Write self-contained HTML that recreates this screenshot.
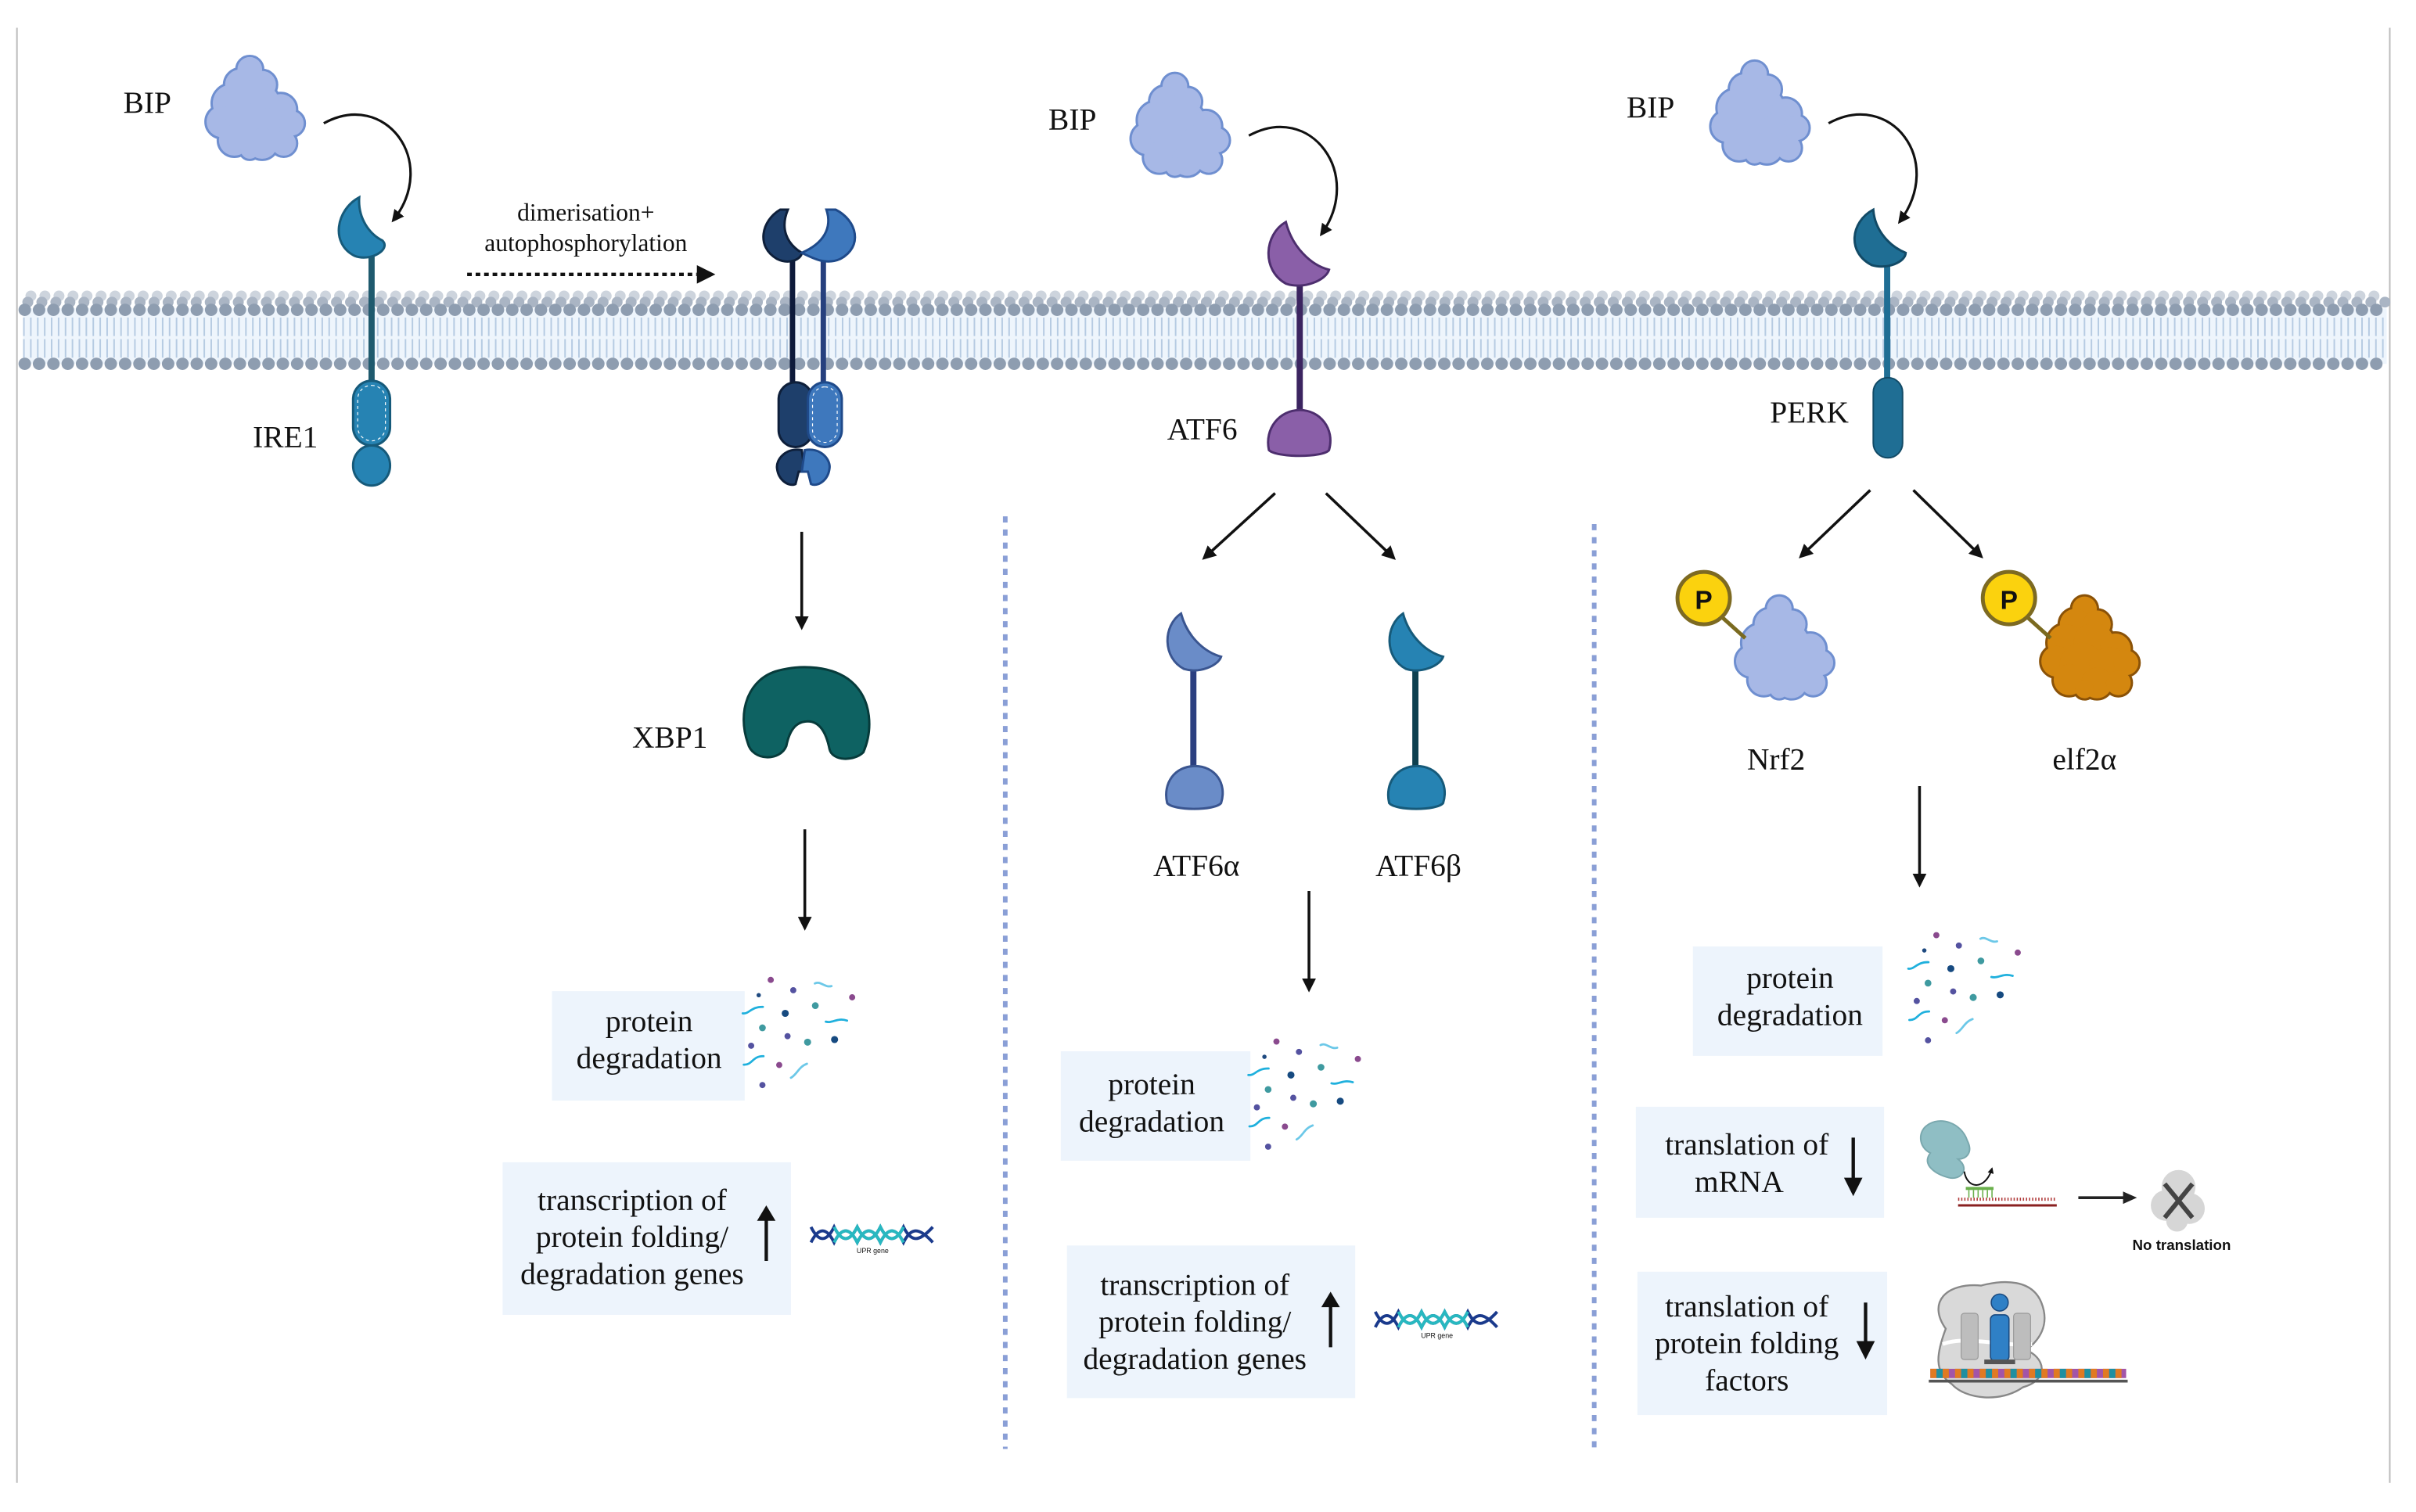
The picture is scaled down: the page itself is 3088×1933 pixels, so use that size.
<!DOCTYPE html>
<html><head><meta charset="utf-8"><style>
html,body{margin:0;padding:0;background:#fff;}
svg{display:block;}
text{font-family:"Liberation Serif",serif;fill:#111;}
</style></head><body>
<svg width="3088" height="1933" viewBox="0 0 1567 980.9" xmlns="http://www.w3.org/2000/svg">
<defs>
<marker id="ah" viewBox="0 0 10 10" refX="8" refY="5" markerWidth="5" markerHeight="5" orient="auto"><path d="M0,0 L10,5 L0,10 z" fill="#111"/></marker>
<marker id="ah2" viewBox="0 0 10 10" refX="8" refY="5" markerWidth="4" markerHeight="4" orient="auto"><path d="M0,0 L10,5 L0,10 z" fill="#111"/></marker>
<g id="blob">
<circle cx="30" cy="10" r="8"/><circle cx="24" cy="20" r="10"/><circle cx="38" cy="20" r="9"/><circle cx="18" cy="32" r="12"/><circle cx="36" cy="32" r="13"/><circle cx="50" cy="36" r="10"/><circle cx="12" cy="44" r="10"/><circle cx="28" cy="46" r="14"/><circle cx="46" cy="48" r="13"/><circle cx="57" cy="45" r="8"/><circle cx="20" cy="56" r="10"/><circle cx="38" cy="58" r="10"/><circle cx="52" cy="58" r="8"/><circle cx="30" cy="62" r="6"/>
</g>
<g id="dots">
<circle cx="19.9" cy="18.7" r="2" fill="#8a4a8e"/><circle cx="34.5" cy="25.4" r="2" fill="#5452a0"/><circle cx="12.1" cy="28.6" r="1.4" fill="#1f4a80"/><circle cx="72.7" cy="30" r="2" fill="#8a4a8e"/><circle cx="48.8" cy="35.4" r="2.2" fill="#3f9aa0"/><circle cx="29.3" cy="40.4" r="2.3" fill="#164a80"/><circle cx="14.5" cy="49.8" r="2.2" fill="#3f9aa0"/><circle cx="30.8" cy="55.2" r="2" fill="#5452a0"/><circle cx="43.8" cy="59.1" r="2.3" fill="#3f9aa0"/><circle cx="61.3" cy="57.4" r="2.3" fill="#164a80"/><circle cx="7.2" cy="61.4" r="2" fill="#5452a0"/><circle cx="25.4" cy="73.9" r="2" fill="#8a4a8e"/><circle cx="14.5" cy="86.9" r="2" fill="#5452a0"/>
<g fill="none" stroke="#1fb0dd" stroke-width="1.4" stroke-linecap="round">
<path d="M1.7,40.4 C6,41 7,36 14.8,36.2"/><path d="M48.5,21 C52,19 55,24 59.3,22.7" stroke="#6cc8e8"/><path d="M55.6,45.8 C60,47 63,43 69.4,45.1"/><path d="M2.4,73.7 C8,74 8,68 15.2,68.2"/><path d="M33,82.2 C37,80 38,75 43.4,73.1" stroke="#6cc8e8"/>
</g>
</g>
<g id="dna">
<path d="M0,0 C5,10 10,10 15,0 C20,10 25,10 30,0 C35,10 40,10 45,0 C50,10 55,10 60,0 C65,10 70,10 79,0" fill="none" stroke="#1a3a8c" stroke-width="2"/>
<path d="M0,10 C5,0 10,0 15,10 C20,0 25,0 30,10 C35,0 40,0 45,10 C50,0 55,0 60,10 C65,0 70,0 79,10" fill="none" stroke="#1a3a8c" stroke-width="2"/>
<path d="M15,0 C20,10 25,10 30,0 C35,10 40,10 45,0 C50,10 55,10 60,0 M15,10 C20,0 25,0 30,10 C35,0 40,0 45,10 C50,0 55,0 60,10" fill="none" stroke="#28b8c0" stroke-width="2"/>
<text x="40" y="17" font-size="4.5" text-anchor="middle" style="font-family:'Liberation Sans',sans-serif" fill="#333">UPR gene</text>
</g>
</defs>

<line x1="11" y1="18" x2="11" y2="962" stroke="#bbb" stroke-width="1"/>
<line x1="1550" y1="18" x2="1550" y2="962" stroke="#bbb" stroke-width="1"/>

<!-- membrane -->
<rect x="15" y="200" width="1533" height="36" fill="#eef5fc"/>
<line x1="15" y1="212" x2="1548" y2="212" stroke="#b6cbe2" stroke-dasharray="1 3.5" stroke-width="12"/>
<line x1="15" y1="226" x2="1548" y2="226" stroke="#b6cbe2" stroke-dasharray="1 3.5" stroke-width="12"/>
<line x1="20" y1="192" x2="1548" y2="192" stroke="#cdd4dd" stroke-width="7" stroke-dasharray="0.1 9" stroke-linecap="round"/>
<line x1="18" y1="196" x2="1548" y2="196" stroke="#aab5c4" stroke-width="7" stroke-dasharray="0.1 9" stroke-linecap="round"/>
<line x1="16" y1="201" x2="1548" y2="201" stroke="#8e9db0" stroke-width="8" stroke-dasharray="0.1 9.2" stroke-linecap="round"/>
<line x1="16" y1="236" x2="1548" y2="236" stroke="#8e9db0" stroke-width="8" stroke-dasharray="0.1 9.2" stroke-linecap="round"/>

<!-- BIP blobs: outline then fill -->
<g fill="#a7b8e6" stroke="#6f8fd0" stroke-width="3">
<use href="#blob" x="132" y="35"/><use href="#blob" x="732" y="46"/><use href="#blob" x="1108" y="38"/>
<use href="#blob" x="1124" y="385"/>
</g>
<g fill="#d4870f" stroke="#8a5208" stroke-width="3"><use href="#blob" x="1322" y="385"/></g>
<g fill="#a7b8e6" stroke="none">
<use href="#blob" x="132" y="35"/><use href="#blob" x="732" y="46"/><use href="#blob" x="1108" y="38"/>
<use href="#blob" x="1124" y="385"/>
</g>
<g fill="#d4870f" stroke="none"><use href="#blob" x="1322" y="385"/></g>

<text x="80" y="73" font-size="20">BIP</text>
<text x="680" y="84" font-size="20">BIP</text>
<text x="1055" y="76" font-size="20">BIP</text>
<g fill="none" stroke="#111" stroke-width="1.6" marker-end="url(#ah)">
<path d="M210,80 C250,58 285,105 255,143"/>
<path d="M810,88 C850,66 885,113 857,152"/>
<path d="M1186,80 C1226,58 1262,104 1232,144"/>
</g>

<!-- IRE1 -->
<line x1="241" y1="160" x2="241" y2="250" stroke="#1f5a6e" stroke-width="4"/>
<path d="M233,128 C218,136 214,158 230,166 C240,170 254,162 248,156 C240,152 232,142 233,128 Z" fill="#2683b3" stroke="#165a7a" stroke-width="1.5"/>
<rect x="229" y="247" width="24" height="42" rx="12" fill="#2683b3" stroke="#165a7a" stroke-width="1.5"/>
<rect x="232" y="250" width="18" height="36" rx="9" fill="none" stroke="#fff" stroke-width="0.6" stroke-dasharray="2 2"/>
<ellipse cx="241" cy="302" rx="12" ry="13" fill="#2683b3" stroke="#165a7a" stroke-width="1.5"/>
<text x="164" y="290" font-size="20">IRE1</text>

<text x="380" y="143" font-size="16" text-anchor="middle">dimerisation+</text>
<text x="380" y="163" font-size="16" text-anchor="middle">autophosphorylation</text>
<line x1="303" y1="178" x2="452" y2="178" stroke="#111" stroke-width="2.2" stroke-dasharray="3 2.5"/>
<path d="M452,172 L464,178 L452,184 Z" fill="#111"/>

<!-- dimer -->
<line x1="514" y1="165" x2="514" y2="252" stroke="#0e1a3a" stroke-width="3.5"/>
<line x1="534" y1="165" x2="534" y2="252" stroke="#26407e" stroke-width="3.5"/>
<path d="M506,136 C494,143 490,160 504,168 C512,172 520,168 520,164 C510,158 506,148 511,136 Z" fill="#1e3f6b" stroke="#0e1f3a" stroke-width="1.5"/>
<path d="M542,136 C556,143 560,160 545,168 C536,172 528,168 520,164 C534,158 540,148 536,136 Z" fill="#3e78bd" stroke="#1f4a8a" stroke-width="1.5"/>
<rect x="505" y="248" width="22" height="42" rx="11" fill="#1e3f6b" stroke="#0e1f3a" stroke-width="1.5"/>
<rect x="524" y="248" width="22" height="42" rx="11" fill="#3e78bd" stroke="#1f4a8a" stroke-width="1.5"/>
<rect x="527" y="251" width="16" height="36" rx="8" fill="none" stroke="#fff" stroke-width="0.6" stroke-dasharray="2 2"/>
<path d="M520,292 C510,290 503,298 504,304 C505,312 512,316 516,314 L518,306 L522,306 Z" fill="#1e3f6b" stroke="#0e1f3a" stroke-width="1.5"/>
<path d="M522,292 C532,290 539,298 538,304 C537,312 530,316 526,314 L524,306 L520,306 Z" fill="#3e78bd" stroke="#1f4a8a" stroke-width="1.5"/>

<g stroke="#111" stroke-width="1.8" marker-end="url(#ah)">
<line x1="520" y1="345" x2="520" y2="407"/>
<line x1="522" y1="538" x2="522" y2="602"/>
<line x1="849" y1="578" x2="849" y2="642"/>
<line x1="827" y1="320" x2="781" y2="362"/>
<line x1="860" y1="320" x2="904" y2="362"/>
<line x1="1213" y1="318" x2="1168" y2="361"/>
<line x1="1241" y1="318" x2="1285" y2="361"/>
<line x1="1245" y1="510" x2="1245" y2="574"/>
</g>

<!-- XBP1 -->
<path d="M485,482 C478,462 485,440 505,435 C520,431 540,432 552,442 C566,454 566,474 560,488 C554,494 540,494 538,486 C536,476 532,468 524,468 C516,468 512,474 510,484 C506,494 488,494 485,482 Z" fill="#0e6262" stroke="#073b3b" stroke-width="1.5"/>
<text x="410" y="485" font-size="20">XBP1</text>

<g fill="#edf4fc">
<rect x="358" y="643" width="125" height="71"/>
<rect x="326" y="754" width="187" height="99"/>
<rect x="688" y="682" width="123" height="71"/>
<rect x="692" y="808" width="187" height="99"/>
<rect x="1098" y="614" width="123" height="71"/>
<rect x="1061" y="718" width="161" height="72"/>
<rect x="1062" y="825" width="162" height="93"/>
</g>
<g font-size="20" text-anchor="middle">
<text x="421" y="669">protein</text><text x="421" y="693">degradation</text>
<text x="410" y="785">transcription of</text><text x="410" y="809">protein folding/</text><text x="410" y="833">degradation genes</text>
<text x="747" y="710">protein</text><text x="747" y="734">degradation</text>
<text x="775" y="840">transcription of</text><text x="775" y="864">protein folding/</text><text x="775" y="888">degradation genes</text>
<text x="1161" y="641">protein</text><text x="1161" y="665">degradation</text>
<text x="1133" y="749">translation of</text><text x="1128" y="773">mRNA</text>
<text x="1133" y="854">translation of</text><text x="1133" y="878">protein folding</text><text x="1133" y="902">factors</text>
</g>
<g stroke="#111" stroke-width="2.2">
<line x1="497" y1="818" x2="497" y2="790"/><path d="M491,792 L497,782 L503,792 Z" fill="#111" stroke="none"/>
<line x1="863" y1="874" x2="863" y2="846"/><path d="M857,848 L863,838 L869,848 Z" fill="#111" stroke="none"/>
<line x1="1202" y1="738" x2="1202" y2="766"/><path d="M1196,764 L1202,776 L1208,764 Z" fill="#111" stroke="none"/>
<line x1="1210" y1="845" x2="1210" y2="872"/><path d="M1204,870 L1210,882 L1216,870 Z" fill="#111" stroke="none"/>
</g>
<use href="#dots" x="480" y="617"/>
<use href="#dots" x="808" y="657"/>
<use href="#dots" x="1236" y="588"/>
<use href="#dna" x="526" y="796"/>
<use href="#dna" x="892" y="851"/>

<line x1="652" y1="335" x2="652" y2="940" stroke="#8a9fd6" stroke-width="3" stroke-dasharray="4 4.5"/>
<line x1="1034" y1="340" x2="1034" y2="943" stroke="#8a9fd6" stroke-width="3" stroke-dasharray="4 4.5"/>

<!-- ATF6 -->
<line x1="843" y1="180" x2="843" y2="268" stroke="#3b2460" stroke-width="4"/>
<path d="M834,144 C820,152 818,175 834,184 C845,188 860,182 862,175 C850,172 838,160 834,144 Z" fill="#8a5fa8" stroke="#4d2e6e" stroke-width="1.5"/>
<path d="M823,292 C820,278 830,266 843,266 C856,266 866,278 862,292 C858,297 828,297 823,292 Z" fill="#8a5fa8" stroke="#4d2e6e" stroke-width="1.5"/>
<text x="757" y="285" font-size="20">ATF6</text>

<line x1="774" y1="428" x2="774" y2="500" stroke="#2b3f80" stroke-width="4"/>
<path d="M766,398 C754,406 754,427 768,434 C778,437 790,432 792,426 C781,423 770,413 766,398 Z" fill="#6a8cc8" stroke="#3a5590" stroke-width="1.5"/>
<path d="M757,521 C754,508 762,497 775,497 C788,497 796,508 792,521 C788,526 761,526 757,521 Z" fill="#6a8cc8" stroke="#3a5590" stroke-width="1.5"/>
<text x="776" y="568" font-size="20" text-anchor="middle">ATF6α</text>

<line x1="918" y1="428" x2="918" y2="500" stroke="#0d4050" stroke-width="4"/>
<path d="M910,398 C898,406 898,427 912,434 C922,437 934,432 936,426 C925,423 914,413 910,398 Z" fill="#2683b3" stroke="#165a7a" stroke-width="1.5"/>
<path d="M901,521 C898,508 906,497 919,497 C932,497 940,508 936,521 C932,526 905,526 901,521 Z" fill="#2683b3" stroke="#165a7a" stroke-width="1.5"/>
<text x="920" y="568" font-size="20" text-anchor="middle">ATF6β</text>

<!-- PERK -->
<line x1="1224" y1="165" x2="1224" y2="250" stroke="#1f6e94" stroke-width="4"/>
<path d="M1215,136 C1200,144 1198,164 1214,172 C1224,175 1236,170 1236,164 C1226,160 1216,150 1215,136 Z" fill="#1f6e94" stroke="#124a66" stroke-width="1.5"/>
<rect x="1215" y="245" width="19" height="52" rx="9.5" fill="#1f6e94" stroke="#124a66" stroke-width="1"/>
<text x="1148" y="274" font-size="20">PERK</text>

<line x1="1112" y1="396" x2="1132" y2="414" stroke="#7a6a20" stroke-width="2.5"/>
<line x1="1310" y1="396" x2="1330" y2="414" stroke="#7a6a20" stroke-width="2.5"/>
<circle cx="1105" cy="388" r="17" fill="#fbd20e" stroke="#7d6a22" stroke-width="2.5"/>
<circle cx="1303" cy="388" r="17" fill="#fbd20e" stroke="#7d6a22" stroke-width="2.5"/>
<text x="1105" y="395" font-size="17" font-weight="bold" text-anchor="middle" style="font-family:'Liberation Sans',sans-serif" fill="#7d6a22">P</text>
<text x="1303" y="395" font-size="17" font-weight="bold" text-anchor="middle" style="font-family:'Liberation Sans',sans-serif" fill="#7d6a22">P</text>
<text x="1152" y="499" font-size="20" text-anchor="middle">Nrf2</text>
<text x="1352" y="499" font-size="20" text-anchor="middle">elf2α</text>

<!-- mRNA translation icon -->
<path d="M1250,730 C1258,724 1272,728 1276,740 C1280,748 1275,752 1270,752 C1278,758 1272,766 1264,764 C1256,762 1246,756 1252,748 C1244,744 1244,734 1250,730 Z" fill="#8fbec4" stroke="#7aa8ae" stroke-width="1"/>
<path d="M1274,760 C1276,772 1288,772 1292,758" fill="none" stroke="#111" stroke-width="1" marker-end="url(#ah2)"/>
<rect x="1275" y="770" width="18" height="2" fill="#6ab04c"/>
<g stroke="#6ab04c" stroke-width="0.8"><line x1="1277" y1="772" x2="1277" y2="777"/><line x1="1280" y1="772" x2="1280" y2="777"/><line x1="1283" y1="772" x2="1283" y2="777"/><line x1="1286" y1="772" x2="1286" y2="777"/><line x1="1289" y1="772" x2="1289" y2="777"/><line x1="1292" y1="772" x2="1292" y2="777"/></g>
<line x1="1270" y1="778" x2="1334" y2="778" stroke="#b03a3a" stroke-width="2" stroke-dasharray="0.8 1.2"/>
<line x1="1270" y1="782" x2="1334" y2="782" stroke="#8a2020" stroke-width="1.5"/>
<line x1="1348" y1="777" x2="1378" y2="777" stroke="#222" stroke-width="1.8"/>
<path d="M1377,773 L1386,777 L1377,781 Z" fill="#222"/>
<g fill="#d6d6d6"><circle cx="1413" cy="770" r="11"/><circle cx="1405" cy="782" r="10"/><circle cx="1420" cy="784" r="10"/><circle cx="1412" cy="792" r="7"/></g>
<path d="M1404,768 L1422,790 M1422,768 L1404,790" stroke="#444" stroke-width="3"/>
<text x="1415" y="811" font-size="9.5" font-weight="bold" text-anchor="middle" style="font-family:'Liberation Sans',sans-serif" fill="#333">No translation</text>

<!-- ribosome gray -->
<path d="M1262,862 C1250,845 1262,832 1285,834 C1300,830 1318,830 1324,845 C1330,860 1322,870 1314,876 C1326,880 1330,895 1312,900 C1298,910 1275,908 1266,898 C1254,890 1256,878 1262,862 Z" fill="#d9d9d9" stroke="#888" stroke-width="1.2"/>
<path d="M1260,872 C1275,866 1300,874 1318,872" fill="none" stroke="#fff" stroke-width="2.5"/>
<rect x="1272" y="852" width="11" height="30" rx="2" fill="#bdbdbd" stroke="#999" stroke-width="0.6"/>
<rect x="1306" y="852" width="11" height="30" rx="2" fill="#bdbdbd" stroke="#999" stroke-width="0.6"/>
<rect x="1291" y="853" width="12" height="30" rx="3" fill="#2f80c6" stroke="#1a4a80" stroke-width="0.8"/>
<circle cx="1297" cy="845" r="5.5" fill="#2f80c6" stroke="#1a4a80" stroke-width="0.8"/>
<rect x="1287" y="882" width="20" height="3" fill="#555"/>
<rect x="1252" y="888" width="127" height="6" fill="#a255a8"/>
<line x1="1252" y1="891" x2="1379" y2="891" stroke="#e07a22" stroke-width="6" stroke-dasharray="4 4"/>
<line x1="1256" y1="891" x2="1379" y2="891" stroke="#1f8fa0" stroke-width="6" stroke-dasharray="4 12"/>
<line x1="1251" y1="896" x2="1380" y2="896" stroke="#555" stroke-width="1.8"/>
</svg>
</body></html>
